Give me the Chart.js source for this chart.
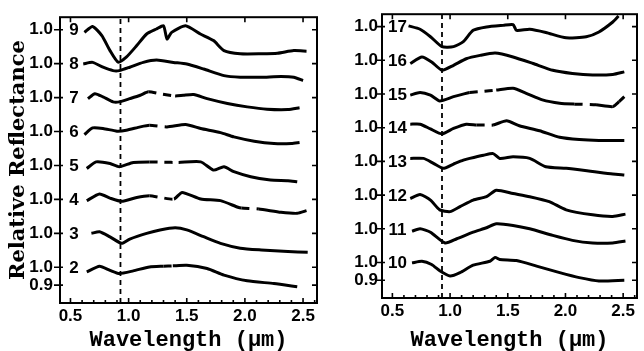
<!DOCTYPE html>
<html>
<head>
<meta charset="utf-8">
<script src="https://cdn.jsdelivr.net/npm/chart.js@4.4.1/dist/chart.umd.min.js"></script>
<style>
  html, body { margin: 0; padding: 0; background: #fff; }
  #wrap { position: relative; width: 644px; height: 351px; overflow: hidden; }
  .panel { position: absolute; top: 0; width: 322px; height: 351px; }
</style>
</head>
<body>
<div id="wrap">
  <div class="panel" style="left:0"><canvas id="cL" width="322" height="351"></canvas></div>
  <div class="panel" style="left:322px"><canvas id="cR" width="322" height="351"></canvas></div>
</div>
<script>
// ---------------- data ----------------
const OFFSET = 0.19;                 // vertical offset between stacked spectra
const X_MIN = 0.41, X_MAX = 2.62;
const Y_MIN = 0.8,  Y_MAX = 2.4;
const xTickValues = [0.5, 1.0, 1.5, 2.0, 2.5];
const bandCenter = 0.93;             // dashed vertical line (µm)

const leftNames  = ['2', '3', '4', '5', '6', '7', '8', '9'];
const rightNames = ['10', '11', '12', '13', '14', '15', '16', '17'];

// [wavelength µm, relative reflectance]
const s2 = [[0.64,0.974],[0.75,1.006],[0.84,0.983],[0.92,0.965],[1.04,0.98],[1.18,1.002],[1.30,1.006],[1.38,1.008],[1.50,1.011],[1.675,0.993],[1.82,0.956],[2.02,0.924],[2.25,0.909],[2.45,0.891]];
const s3 = [[0.68,1.0],[0.75,1.009],[0.84,0.98],[0.94,0.944],[1.01,0.968],[1.155,1.0],[1.27,1.019],[1.40,1.031],[1.50,1.019],[1.645,0.981],[1.79,0.944],[1.96,0.917],[2.14,0.907],[2.37,0.898],[2.54,0.894]];
const s4 = [[0.64,0.993],[0.75,1.03],[0.84,1.007],[0.94,0.989],[1.07,1.011],[1.18,1.02],[1.28,1.01],[1.39,1.002],[1.46,1.039],[1.62,1.002],[1.79,0.993],[1.94,0.956],[1.97,0.952],[2.12,0.946],[2.31,0.928],[2.45,0.922],[2.53,0.937]];
const s5 = [[0.64,0.983],[0.72,1.02],[0.84,1.011],[0.92,0.993],[1.04,1.017],[1.18,1.02],[1.30,1.018],[1.43,1.017],[1.62,1.02],[1.73,0.974],[1.82,0.993],[1.905,0.965],[2.05,0.937],[2.22,0.918],[2.37,0.915],[2.45,0.909]];
const s6 = [[0.62,0.983],[0.69,1.02],[0.78,1.017],[0.90,1.002],[0.98,1.007],[1.10,1.026],[1.18,1.035],[1.33,1.026],[1.49,1.039],[1.62,1.017],[1.79,0.994],[1.905,0.97],[2.08,0.946],[2.25,0.933],[2.40,0.933],[2.47,0.939]];
const s7 = [[0.65,0.994],[0.71,1.022],[0.78,1.004],[0.866,0.976],[0.92,0.976],[1.01,0.994],[1.10,1.013],[1.17,1.032],[1.28,1.02],[1.40,1.009],[1.47,1.013],[1.56,1.017],[1.675,0.994],[1.85,0.967],[2.02,0.948],[2.19,0.935],[2.37,0.933],[2.47,0.943]];
const s8 = [[0.61,0.998],[0.69,1.007],[0.78,0.98],[0.866,0.961],[0.92,0.961],[1.01,0.98],[1.126,1.007],[1.24,1.02],[1.386,1.007],[1.50,0.998],[1.645,0.97],[1.82,0.933],[1.96,0.924],[2.14,0.924],[2.31,0.928],[2.42,0.924],[2.50,0.905]];
const s9 = [[0.62,0.985],[0.69,1.018],[0.77,0.967],[0.84,0.883],[0.91,0.818],[0.98,0.846],[1.07,0.911],[1.155,0.976],[1.24,1.004],[1.30,1.022],[1.33,0.948],[1.37,0.985],[1.49,1.022],[1.617,0.976],[1.73,0.939],[1.82,0.883],[1.96,0.865],[2.14,0.865],[2.28,0.868],[2.42,0.883],[2.53,0.88]];

const s10 = [[0.67,0.998],[0.756,1.007],[0.84,0.989],[0.914,0.952],[1.0,0.924],[1.086,0.943],[1.20,0.985],[1.345,1.007],[1.39,1.029],[1.43,1.017],[1.575,1.011],[1.75,0.98],[1.95,0.943],[2.12,0.915],[2.29,0.896],[2.51,0.9]];
const s11 = [[0.67,0.987],[0.74,1.0],[0.83,0.981],[0.957,0.92],[1.058,0.944],[1.20,0.981],[1.316,1.006],[1.40,1.028],[1.546,1.019],[1.69,1.0],[1.89,0.963],[2.06,0.935],[2.235,0.92],[2.41,0.92],[2.52,0.931]];
const s12 = [[0.655,0.981],[0.74,1.004],[0.83,0.972],[0.91,0.917],[1.0,0.907],[1.086,0.935],[1.20,0.972],[1.316,0.991],[1.40,1.028],[1.546,1.009],[1.69,0.991],[1.86,0.963],[2.006,0.917],[2.235,0.889],[2.41,0.88],[2.52,0.893]];
const s13 = [[0.655,1.017],[0.77,1.017],[0.856,0.989],[0.94,0.961],[1.03,0.985],[1.115,1.007],[1.17,1.017],[1.29,1.035],[1.373,1.044],[1.43,1.017],[1.546,1.026],[1.69,1.017],[1.83,0.97],[2.006,0.961],[2.235,0.943],[2.41,0.929],[2.51,0.924]];
const s14 = [[0.655,1.02],[0.74,1.02],[0.83,0.993],[0.93,0.965],[1.03,0.996],[1.14,1.02],[1.23,1.015],[1.30,1.015],[1.373,1.015],[1.49,1.039],[1.60,1.011],[1.776,0.983],[1.95,0.946],[2.12,0.933],[2.29,0.928],[2.51,0.928]];
const s15 = [[0.655,0.994],[0.74,1.009],[0.83,0.994],[0.91,0.961],[1.03,0.985],[1.17,1.009],[1.28,1.015],[1.40,1.022],[1.546,1.032],[1.66,1.004],[1.80,0.967],[1.95,0.948],[2.08,0.943],[2.265,0.939],[2.41,0.929],[2.465,0.957],[2.51,0.985]];
const s16 = [[0.655,0.982],[0.756,1.019],[0.84,0.991],[0.93,0.944],[1.03,0.972],[1.14,1.009],[1.26,1.028],[1.39,1.041],[1.546,1.019],[1.72,0.982],[1.89,0.944],[2.06,0.926],[2.235,0.917],[2.41,0.92],[2.51,0.935]];
const s17 = [[0.64,1.004],[0.74,0.985],[0.83,0.943],[0.93,0.887],[1.03,0.887],[1.115,0.915],[1.20,0.979],[1.316,0.998],[1.46,1.007],[1.546,1.011],[1.575,0.979],[1.69,0.985],[1.83,0.967],[2.006,0.937],[2.18,0.943],[2.29,0.97],[2.41,1.026],[2.46,1.06]];

// wavelength ranges drawn broken (dashed) in each spectrum
const gaps = {
  '2': [[1.30,1.38]],
  '4': [[1.18,1.39],[1.97,2.12]],
  '5': [[1.18,1.43]],
  '6': [[1.18,1.33]],
  '7': [[1.17,1.40]],
  '14': [[1.23,1.373]],
  '15': [[1.17,1.40],[2.08,2.265],[2.41,2.465]]
};

const leftSeries  = [s2, s3, s4, s5, s6, s7, s8, s9];
const rightSeries = [s10, s11, s12, s13, s14, s15, s16, s17];

// ---------------- drawing ----------------
const INK = '#000';

function buildDatasets(names, series) {
  const ds = series.map((s, i) => {
    const g = gaps[names[i]] || [];
    return {
      label: names[i],
      data: s.map(p => ({ x: p[0], y: p[1] + i * OFFSET })),
      borderColor: INK,
      borderWidth: 3,
      pointRadius: 0,
      tension: 0.2,
      fill: false,
      segment: {
        borderDash: ctx => {
          const m = (ctx.p0.parsed.x + ctx.p1.parsed.x) / 2;
          return g.some(r => m > r[0] && m < r[1]) ? [8, 7] : undefined;
        }
      }
    };
  });
  ds.push({
    label: 'band',
    data: [{ x: bandCenter, y: Y_MIN }, { x: bandCenter, y: Y_MAX }],
    borderColor: INK, borderWidth: 1.8, borderDash: [5, 4], pointRadius: 0, fill: false
  });
  return ds;
}

function yTicksFor(n) {
  const vals = [0.9];
  const labs = ['0.9'];
  for (let i = 0; i < n; i++) { vals.push(1.0 + i * OFFSET); labs.push('1.0'); }
  return { vals, labs };
}

const framePlugin = {
  id: 'frame',
  afterDraw(chart, args, opts) {
    const { ctx, chartArea: a, scales: { x, y } } = chart;
    ctx.save();
    ctx.strokeStyle = INK;
    ctx.lineWidth = 2;
    ctx.strokeRect(a.left, a.top, a.right - a.left, a.bottom - a.top);
    ctx.lineWidth = 1.6;
    ctx.beginPath();
    opts.yVals.forEach(v => {
      const py = y.getPixelForValue(v);
      ctx.moveTo(a.left - 6, py); ctx.lineTo(a.left + 3, py);
      ctx.moveTo(a.right - 5, py); ctx.lineTo(a.right, py);
    });
    xTickValues.forEach(v => {
      const px = x.getPixelForValue(v);
      ctx.moveTo(px, a.bottom); ctx.lineTo(px, a.bottom - 5);
      ctx.moveTo(px, a.top); ctx.lineTo(px, a.top + 5);
    });
    for (let k = 5; k <= 26; k++) {
      const v = k / 10;
      if (Math.abs(v * 2 - Math.round(v * 2)) < 1e-6) continue;
      const px = x.getPixelForValue(v);
      if (px <= a.left || px >= a.right) continue;
      ctx.moveTo(px, a.bottom); ctx.lineTo(px, a.bottom - 3);
    }
    ctx.stroke();
    ctx.fillStyle = INK;
    ctx.font = 'bold 17px "Liberation Sans", Arial, sans-serif';
    ctx.textAlign = 'center';
    ctx.textBaseline = 'middle';
    opts.names.forEach((nm, i) => {
      ctx.fillText(nm, x.getPixelForValue(opts.labelX), y.getPixelForValue(1.0 + i * OFFSET) + 1);
    });
    ctx.restore();
  }
};

function makeChart(id, names, series, cfg) {
  const yt = yTicksFor(names.length);
  return new Chart(document.getElementById(id), {
    type: 'line',
    data: { datasets: buildDatasets(names, series) },
    options: {
      responsive: false,
      animation: false,
      events: [],
      layout: { padding: { top: cfg.top, right: cfg.right, left: 0, bottom: 0 } },
      plugins: {
        legend: { display: false },
        tooltip: { enabled: false },
        frame: { yVals: yt.vals, names: names, labelX: cfg.labelX }
      },
      scales: {
        x: {
          type: 'linear', min: X_MIN, max: X_MAX,
          afterBuildTicks: s => { s.ticks = xTickValues.map(v => ({ value: v })); },
          afterFit: s => { s.height = cfg.xH; },
          grid: { display: false, drawTicks: false },
          border: { display: false },
          ticks: {
            autoSkip: false, maxRotation: 0, padding: 3, color: INK,
            font: { family: '"Liberation Sans", Arial, sans-serif', size: 17, weight: 'bold' },
            callback: v => Number(v).toFixed(1)
          },
          title: {
            display: true, text: 'Wavelength (μm)', color: INK,
            padding: { top: 0, bottom: 0 },
            font: { family: '"Liberation Mono", "DejaVu Sans Mono", monospace', size: 22, weight: 'bold', lineHeight: 1 }
          }
        },
        y: {
          type: 'linear', min: Y_MIN, max: Y_MAX,
          afterBuildTicks: s => { s.ticks = yt.vals.map(v => ({ value: v })); },
          afterFit: s => { s.width = 60; },
          grid: { display: false, drawTicks: false },
          border: { display: false },
          ticks: {
            autoSkip: false, padding: cfg.yPad, color: INK,
            font: { family: '"Liberation Sans", Arial, sans-serif', size: 17, weight: 'bold' },
            callback: (v, i) => yt.labs[i]
          },
          title: {
            display: cfg.yTitle, text: 'Relative Reflectance', color: INK,
            padding: { top: 8, bottom: 0 },
            font: { family: '"DejaVu Serif", "Liberation Serif", serif', size: 21, weight: 'bold', lineHeight: 1 }
          }
        }
      }
    },
    plugins: [framePlugin]
  });
}

makeChart('cL', leftNames, leftSeries, { top: 15, right: 5, xH: 48, yPad: 7, yTitle: true, labelX: 0.53 });
makeChart('cR', rightNames, rightSeries, { top: 12, right: 7, xH: 53, yPad: 4, yTitle: false, labelX: 0.545 });
</script>
</body>
</html>
